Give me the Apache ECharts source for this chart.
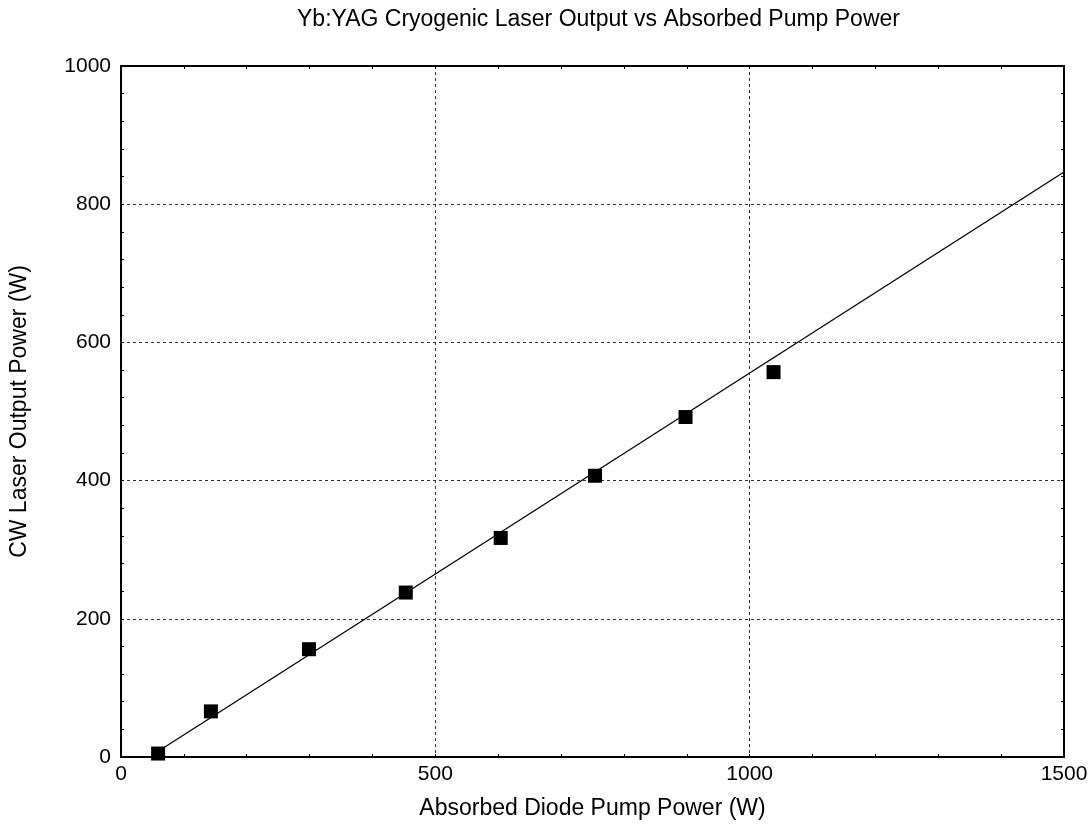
<!DOCTYPE html>
<html><head><meta charset="utf-8">
<script src="https://cdn.jsdelivr.net/npm/echarts@6/dist/echarts.min.js"></script>
<style>html,body{margin:0;padding:0;background:#fff}#c{width:1092px;height:837px}</style>
</head><body><div id="c"></div>
<script>
const titleText = 'Yb:YAG Cryogenic Laser Output vs Absorbed Pump Power';
const xName = 'Absorbed Diode Pump Power (W)';
const yName = 'CW Laser Output Power (W)';
const pumpPower = [59, 143, 299, 453, 604, 754, 898, 1038];
const outputPower = [5, 66, 156, 238, 317, 407, 492, 557];
const fitX = [58, 1500];
const fitY = [7.5, 846.7];

const font = 'Liberation Sans, Arial, sans-serif';
const chart = echarts.init(document.getElementById('c'), null, {renderer:'canvas'});
const baseAxis = {
  axisLine:{show:true, onZero:false, lineStyle:{color:'#000', width:2}},
  axisTick:{show:true, inside:true, length:3, lineStyle:{color:'#000'}},
  minorTick:{show:true, splitNumber:5, length:3, lineStyle:{color:'#000'}},
  splitLine:{show:false}
};
const plain = v => String(v);
chart.setOption({
  animation:false,
  title:{text:titleText, left:292, top:3, textStyle:{fontFamily:font, fontSize:23, fontWeight:'normal', color:'#000'}},
  grid:{left:121, right:28, top:66, bottom:80},
  xAxis:[
    Object.assign({}, baseAxis, {type:'value', min:0, max:1500, interval:500, position:'bottom',
      name:xName, nameLocation:'middle', nameGap:40,
      nameTextStyle:{fontFamily:font, fontSize:23, color:'#000'},
      axisLabel:{fontFamily:font, fontSize:21, color:'#000', margin:7, formatter:plain},
      splitLine:{show:true, lineStyle:{color:'#333', type:[3,3], width:1}}}),
    Object.assign({}, baseAxis, {type:'value', min:0, max:1500, interval:500, position:'top', axisLabel:{show:false}})
  ],
  yAxis:[
    Object.assign({}, baseAxis, {type:'value', min:0, max:1000, interval:200, position:'left',
      name:yName, nameLocation:'middle', nameGap:90,
      nameTextStyle:{fontFamily:font, fontSize:23, color:'#000'},
      axisLabel:{fontFamily:font, fontSize:21, color:'#000', margin:10, formatter:plain},
      splitLine:{show:true, lineStyle:{color:'#333', type:[3,3], width:1}}}),
    Object.assign({}, baseAxis, {type:'value', min:0, max:1000, interval:200, position:'right', axisLabel:{show:false}})
  ],
  series:[
    {type:'line', data:fitX.map((x,i)=>[x, fitY[i]]), showSymbol:false, symbol:'none',
      lineStyle:{color:'#000', width:1.3}, z:2},
    {type:'scatter', data:pumpPower.map((x,i)=>[x, outputPower[i]]), symbol:'rect', symbolSize:14,
      itemStyle:{color:'#000', opacity:1}, z:3}
  ]
});
</script></body></html>
